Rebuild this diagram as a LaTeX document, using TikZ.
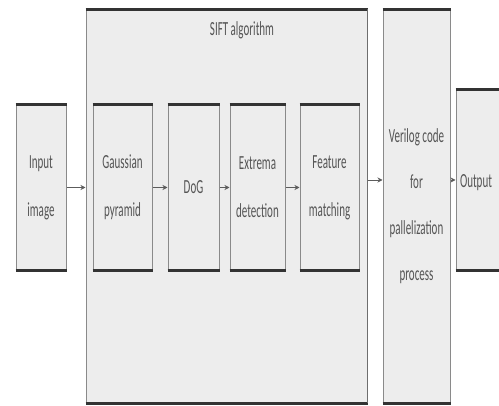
\documentclass[tikz,border=0pt]{standalone}
\usepackage{fontspec}
\setmainfont[FakeStretch=0.55]{Carlito}
\usetikzlibrary{arrows.meta}
\definecolor{boxfill}{HTML}{EDEDED}
\definecolor{boxside}{HTML}{8A8A8A}
\definecolor{boxedge}{HTML}{333333}
\definecolor{txt}{HTML}{555555}
\tikzset{
  blockbox/.style={rectangle, fill=boxfill, draw=boxside, line width=1pt,
    inner sep=0pt, align=center, text=txt,
    font=\fontsize{20}{48}\selectfont},
  edgeline/.style={draw=boxedge, line width=3pt},
  flow/.style={draw=boxedge!80, line width=0.8pt, -{Stealth[length=5pt,width=5pt]}}
}
\begin{document}
\begin{tikzpicture}[x=1pt, y=-1pt]
\useasboundingbox (0,0) rectangle (499,406);
\clip (0,0) rectangle (499,406);
\fill[white] (0,0) rectangle (499,406);

% outer SIFT block with its title
\node[blockbox, minimum width=281pt, minimum height=393pt] (sift) at (226.5,206.5) {};
\node[text=txt, font=\fontsize{20}{22}\selectfont] (title) at (242,30) {SIFT algorithm};

% stages
\node[blockbox, minimum width=50pt, minimum height=165pt] (in) at (41,187.5) {Input\\image};
\node[blockbox, minimum width=59pt, minimum height=165pt] (gauss) at (122.5,187.5) {Gaussian\\pyramid};
\node[blockbox, minimum width=51pt, minimum height=165pt] (dog) at (193.5,187.5) {DoG};
\node[blockbox, minimum width=55pt, minimum height=165pt] (ext) at (257.5,187.5) {Extrema\\detection};
\node[blockbox, minimum width=59pt, minimum height=165pt] (feat) at (329.5,187.5) {Feature\\matching};
\node[blockbox, minimum width=67pt, minimum height=393pt, font=\fontsize{20}{46}\selectfont]
  (veri) at (416.5,206.5) {Verilog code\\for\\pallelization\\process};
\node[blockbox, minimum width=50pt, minimum height=180pt] (out) at (481,180) {};
\node[text=txt, font=\fontsize{20}{22}\selectfont] (outtxt) at (476,183) {Output};

% dark top and bottom edges
\foreach \b in {sift,in,gauss,dog,ext,feat,veri,out}{
  \draw[edgeline] (\b.north west) -- (\b.north east);
  \draw[edgeline] (\b.south west) -- (\b.south east);
}
\draw[draw=boxside!80!black, line width=1.5pt] (sift.north east) -- (sift.south east);

% connectors
\draw[flow] (in.east) -- (in.east -| sift.west);
\draw[flow] (gauss.east) -- (dog.west);
\draw[flow] (dog.east) -- (ext.west);
\draw[flow] (ext.east) -- (feat.west);
\draw[flow] (sift.east |- out.west) -- (veri.west |- out.west);
\draw[flow] (veri.east |- out.west) -- (out.west);
\end{tikzpicture}
\end{document}
